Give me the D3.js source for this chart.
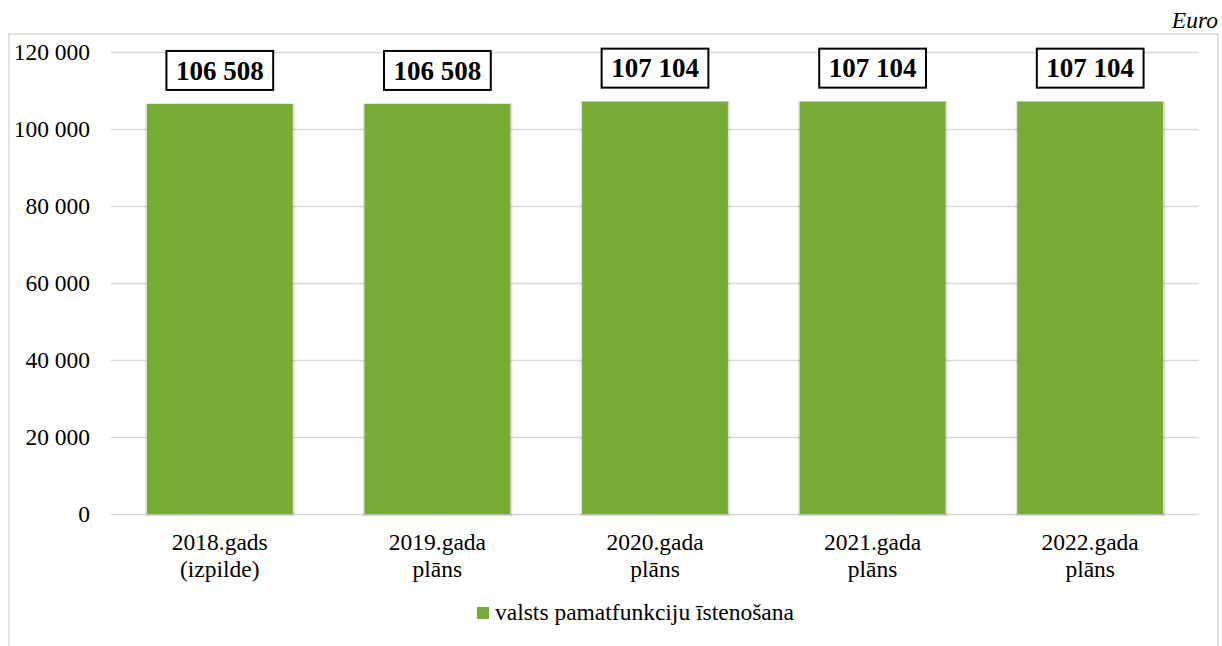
<!DOCTYPE html>
<html>
<head>
<meta charset="utf-8">
<script src="https://cdn.jsdelivr.net/npm/d3@7"></script>
</head>
<body style="margin:0">
<script>
// data
const categories = [
    ["2018.gads", "(izpilde)"],
    ["2019.gada", "plāns"],
    ["2020.gada", "plāns"],
    ["2021.gada", "plāns"],
    ["2022.gada", "plāns"]
]
const values = [106508, 106508, 107104, 107104, 107104]
const yTicks = [0, 20000, 40000, 60000, 80000, 100000, 120000]
const seriesName = "valsts pamatfunkciju īstenošana"
const unitLabel = "Euro"

const serif = "Liberation Serif"

// dimensions
let dimensions = {
    width: 1222,
    height: 646,
    margin: { top: 52, right: 23, bottom: 132, left: 111 }
}
dimensions.boundedWidth = dimensions.width - dimensions.margin.left - dimensions.margin.right
dimensions.boundedHeight = dimensions.height - dimensions.margin.top - dimensions.margin.bottom

const fmt = v => d3.format(",")(v).replace(/,/g, " ")

// canvas
const wrapper = d3.select("body")
    .append("svg")
    .attr("width", dimensions.width)
    .attr("height", dimensions.height)

// chart frame
wrapper.append("rect")
    .attr("x", 9)
    .attr("y", 34)
    .attr("width", 1209)
    .attr("height", 640)
    .attr("fill", "none")
    .attr("stroke", "#d9d9d9")
    .attr("stroke-width", 1.5)

wrapper.append("text")
    .attr("x", 1218)
    .attr("y", 28)
    .attr("text-anchor", "end")
    .style("font-family", serif)
    .style("font-style", "italic")
    .style("font-size", "23.5px")
    .text(unitLabel)

const bounds = wrapper.append("g")
    .attr("transform", `translate(${dimensions.margin.left},${dimensions.margin.top})`)

// scales
const xScale = d3.scaleBand()
    .domain(categories.map(d => d[0]))
    .range([0, dimensions.boundedWidth])
    .paddingInner(0.33)
    .paddingOuter(0.165)

const yScale = d3.scaleLinear()
    .domain([0, 120000])
    .range([dimensions.boundedHeight, 0])

// gridlines
bounds.selectAll("line.grid")
    .data(yTicks)
    .join("line")
    .attr("class", "grid")
    .attr("x1", 0)
    .attr("x2", dimensions.boundedWidth)
    .attr("y1", d => Math.round(yScale(d)) + 0.5)
    .attr("y2", d => Math.round(yScale(d)) + 0.5)
    .attr("stroke", "#d9d9d9")
    .attr("stroke-width", 1.5)

// y axis labels
bounds.selectAll("text.ytick")
    .data(yTicks)
    .join("text")
    .attr("class", "ytick")
    .attr("x", -21)
    .attr("y", d => yScale(d))
    .attr("dy", "0.34em")
    .attr("text-anchor", "end")
    .style("font-family", serif)
    .style("font-size", "23.5px")
    .text(fmt)

// bar shadows (soft edge)
bounds.selectAll("rect.shade")
    .data(values)
    .join("rect")
    .attr("class", "shade")
    .attr("x", (d, i) => xScale(categories[i][0]) - 1.5)
    .attr("y", d => yScale(d) - 0.5)
    .attr("width", xScale.bandwidth() + 3.5)
    .attr("height", d => dimensions.boundedHeight - yScale(d) + 2.5)
    .attr("fill", "#000")
    .attr("opacity", 0.12)

// bars
bounds.selectAll("rect.bar")
    .data(values)
    .join("rect")
    .attr("class", "bar")
    .attr("x", (d, i) => xScale(categories[i][0]))
    .attr("y", d => yScale(d))
    .attr("width", xScale.bandwidth())
    .attr("height", d => dimensions.boundedHeight - yScale(d))
    .attr("fill", "#76ac34")

// value labels
const labels = bounds.selectAll("g.label")
    .data(values)
    .join("g")
    .attr("class", "label")
    .attr("transform", (d, i) => `translate(${xScale(categories[i][0]) + xScale.bandwidth() / 2},${yScale(d) - 33.5})`)

labels.append("text")
    .attr("text-anchor", "middle")
    .attr("dy", "0.34em")
    .style("font-family", serif)
    .style("font-weight", "bold")
    .style("font-size", "27px")
    .text(fmt)

labels.each(function() {
    const g = d3.select(this)
    const bb = g.select("text").node().getBBox()
    g.insert("rect", "text")
        .attr("x", bb.x - 9.5)
        .attr("y", -19.5)
        .attr("width", bb.width + 19)
        .attr("height", 39)
        .attr("fill", "#fff")
        .attr("stroke", "#000")
        .attr("stroke-width", 2)
})

// x axis labels
const xAxis = bounds.append("g")
    .attr("transform", `translate(0,${dimensions.boundedHeight})`)
xAxis.selectAll("text")
    .data(categories)
    .join("text")
    .attr("x", d => xScale(d[0]) + xScale.bandwidth() / 2)
    .attr("y", 36)
    .attr("text-anchor", "middle")
    .style("font-family", serif)
    .style("font-size", "23.5px")
    .selectAll("tspan")
    .data(d => d)
    .join("tspan")
    .attr("x", function() { return d3.select(this.parentNode).attr("x") })
    .attr("dy", (d, i) => i === 0 ? 0 : 27)
    .text(d => d)

// legend
const legend = wrapper.append("g")
    .attr("transform", "translate(477,613)")
legend.append("rect")
    .attr("x", 0)
    .attr("y", -6)
    .attr("width", 12)
    .attr("height", 12)
    .attr("fill", "#76ac34")
legend.append("text")
    .attr("x", 18)
    .attr("y", 7)
    .style("font-family", serif)
    .style("font-size", "23.5px")
    .text(seriesName)
</script>
</body>
</html>
